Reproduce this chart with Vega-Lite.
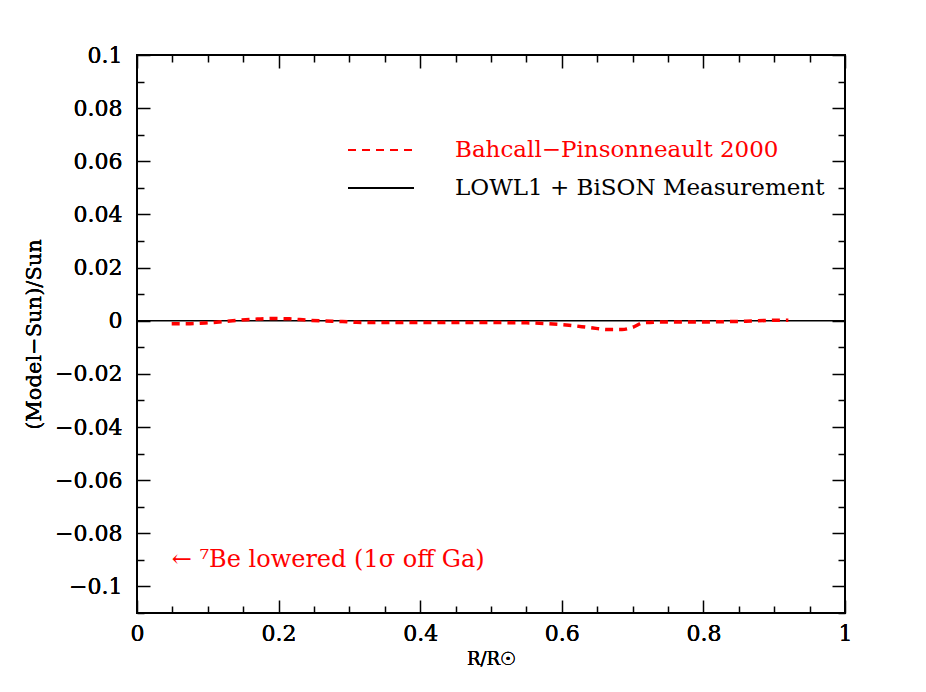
{
  "$schema": "https://vega.github.io/schema/vega-lite/v6.json",
  "width": 708,
  "height": 558,
  "autosize": {"type": "none"},
  "padding": {"left": 137, "top": 55, "right": 81, "bottom": 79},
  "background": "white",
  "config": {
    "view": {"stroke": "black", "strokeWidth": 2},
    "font": "DejaVu Serif",
    "axis": {"domain": false, "grid": false, "labelFont": "DejaVu Serif", "titleFont": "DejaVu Serif", "labelColor": "black", "titleColor": "black", "tickColor": "black", "tickWidth": 1.5, "labelFontWeight": "normal"}
  },
  "data": {
    "values": [
      {"series": "LOWL1 + BiSON Measurement", "R": 0, "val": 0},
      {"series": "LOWL1 + BiSON Measurement", "R": 1, "val": 0},
      {"series": "Bahcall−Pinsonneault 2000", "R": 0.049, "val": -0.0011},
      {"series": "Bahcall−Pinsonneault 2000", "R": 0.075, "val": -0.0011},
      {"series": "Bahcall−Pinsonneault 2000", "R": 0.10, "val": -0.0008},
      {"series": "Bahcall−Pinsonneault 2000", "R": 0.12, "val": -0.0004},
      {"series": "Bahcall−Pinsonneault 2000", "R": 0.145, "val": 0.0002},
      {"series": "Bahcall−Pinsonneault 2000", "R": 0.17, "val": 0.0006},
      {"series": "Bahcall−Pinsonneault 2000", "R": 0.19, "val": 0.0008},
      {"series": "Bahcall−Pinsonneault 2000", "R": 0.215, "val": 0.0007},
      {"series": "Bahcall−Pinsonneault 2000", "R": 0.24, "val": 0.0002},
      {"series": "Bahcall−Pinsonneault 2000", "R": 0.265, "val": -0.0001},
      {"series": "Bahcall−Pinsonneault 2000", "R": 0.29, "val": -0.0003},
      {"series": "Bahcall−Pinsonneault 2000", "R": 0.31, "val": -0.0006},
      {"series": "Bahcall−Pinsonneault 2000", "R": 0.35, "val": -0.0007},
      {"series": "Bahcall−Pinsonneault 2000", "R": 0.40, "val": -0.0007},
      {"series": "Bahcall−Pinsonneault 2000", "R": 0.45, "val": -0.0007},
      {"series": "Bahcall−Pinsonneault 2000", "R": 0.50, "val": -0.0007},
      {"series": "Bahcall−Pinsonneault 2000", "R": 0.55, "val": -0.0008},
      {"series": "Bahcall−Pinsonneault 2000", "R": 0.58, "val": -0.0011},
      {"series": "Bahcall−Pinsonneault 2000", "R": 0.61, "val": -0.0017},
      {"series": "Bahcall−Pinsonneault 2000", "R": 0.64, "val": -0.0026},
      {"series": "Bahcall−Pinsonneault 2000", "R": 0.665, "val": -0.0033},
      {"series": "Bahcall−Pinsonneault 2000", "R": 0.685, "val": -0.0033},
      {"series": "Bahcall−Pinsonneault 2000", "R": 0.70, "val": -0.0025},
      {"series": "Bahcall−Pinsonneault 2000", "R": 0.715, "val": -0.0008},
      {"series": "Bahcall−Pinsonneault 2000", "R": 0.74, "val": -0.0005},
      {"series": "Bahcall−Pinsonneault 2000", "R": 0.78, "val": -0.0005},
      {"series": "Bahcall−Pinsonneault 2000", "R": 0.82, "val": -0.0004},
      {"series": "Bahcall−Pinsonneault 2000", "R": 0.86, "val": -0.0002},
      {"series": "Bahcall−Pinsonneault 2000", "R": 0.89, "val": 0.0001},
      {"series": "Bahcall−Pinsonneault 2000", "R": 0.92, "val": 0.0002}
    ]
  },
  "encoding": {
    "x": {
      "field": "R", "type": "quantitative",
      "scale": {"domain": [0, 1], "nice": false, "zero": false},
      "axis": {
        "orient": "bottom", "values": [0, 0.2, 0.4, 0.6, 0.8, 1], "ticks": false, "format": ".1~f",
        "labelFontSize": 22, "labelPadding": 10, "labelFlush": false,
        "title": "R/R☉", "titleFontSize": 18, "titleFontWeight": "normal", "titlePadding": 6
      }
    },
    "y": {
      "field": "val", "type": "quantitative",
      "scale": {"domain": [-0.11, 0.1], "nice": false, "zero": false},
      "axis": {
        "orient": "left", "values": [-0.1, -0.08, -0.06, -0.04, -0.02, 0, 0.02, 0.04, 0.06, 0.08, 0.1], "ticks": false, "format": ".2~f",
        "labelFontSize": 22, "labelPadding": 15, "labelFlush": false,
        "title": "(Model−Sun)/Sun", "titleFontSize": 21, "titleFontWeight": "normal", "titlePadding": 10
      }
    }
  },
  "layer": [
    {
      "transform": [{"filter": "datum.series == 'LOWL1 + BiSON Measurement'"}],
      "mark": {"type": "line", "strokeWidth": 1.5},
      "encoding": {
        "color": {
          "field": "series", "type": "nominal",
          "scale": {"domain": ["Bahcall−Pinsonneault 2000", "LOWL1 + BiSON Measurement"], "range": ["#ff0000", "#000000"]},
          "legend": {
            "orient": "none", "legendX": 232, "legendY": 83, "title": null,
            "symbolType": "M -3 0 L 3 0", "symbolSize": 484, "symbolStrokeWidth": 2,
            "labelFontSize": 23, "labelFont": "DejaVu Serif", "labelOffset": 62, "rowPadding": 14, "labelLimit": 600,
            "encode": {"labels": {"update": {"fill": {"signal": "datum.label == 'LOWL1 + BiSON Measurement' ? 'black' : '#ff0000'"}}}}
          }
        },
        "strokeDash": {
          "field": "series", "type": "nominal",
          "scale": {"domain": ["Bahcall−Pinsonneault 2000", "LOWL1 + BiSON Measurement"], "range": [[8, 6], [1, 0]]},
          "legend": null
        }
      }
    },
    {
      "transform": [{"filter": "datum.series == 'Bahcall−Pinsonneault 2000'"}],
      "mark": {"type": "line", "strokeWidth": 3.5, "interpolate": "monotone"},
      "encoding": {
        "color": {"field": "series", "type": "nominal"},
        "strokeDash": {"field": "series", "type": "nominal"}
      }
    },
    {
      "data": {"values": [{"note": "← ⁷Be lowered (1σ off Ga)", "R": 0.049, "val": -0.0902}]},
      "mark": {"type": "text", "align": "left", "baseline": "middle", "fontSize": 24, "color": "#ff0000"},
      "encoding": {
        "text": {"field": "note", "type": "nominal"}
      }
    },
    {
      "mark": {"type": "point", "opacity": 0},
      "data": {"values": [{}]},
      "encoding": {
        "x": {"datum": 0, "type": "quantitative", "axis": {"orient": "top", "values": [0, 0.2, 0.4, 0.6, 0.8, 1], "labels": false, "tickSize": -13, "title": null}},
        "y": {"datum": 0, "type": "quantitative", "axis": {"orient": "right", "values": [-0.1, -0.08, -0.06, -0.04, -0.02, 0, 0.02, 0.04, 0.06, 0.08, 0.1], "labels": false, "tickSize": -13, "title": null}}
      }
    },
    {
      "mark": {"type": "point", "opacity": 0},
      "data": {"values": [{}]},
      "encoding": {
        "x": {"datum": 0, "type": "quantitative", "axis": {"orient": "bottom", "values": [0, 0.2, 0.4, 0.6, 0.8, 1], "labels": false, "tickSize": -13, "title": null}},
        "y": {"datum": 0, "type": "quantitative", "axis": {"orient": "left", "values": [-0.1, -0.08, -0.06, -0.04, -0.02, 0, 0.02, 0.04, 0.06, 0.08, 0.1], "labels": false, "tickSize": -13, "title": null}}
      }
    },
    {
      "mark": {"type": "point", "opacity": 0},
      "data": {"values": [{}]},
      "encoding": {
        "x": {"datum": 0, "type": "quantitative", "axis": {"orient": "bottom", "values": [0.05, 0.1, 0.15, 0.25, 0.3, 0.35, 0.45, 0.5, 0.55, 0.65, 0.7, 0.75, 0.85, 0.9, 0.95], "labels": false, "tickSize": -7, "title": null}},
        "y": {"datum": 0, "type": "quantitative", "axis": {"orient": "left", "values": [-0.11, -0.09, -0.07, -0.05, -0.03, -0.01, 0.01, 0.03, 0.05, 0.07, 0.09], "labels": false, "tickSize": -7, "title": null}}
      }
    },
    {
      "mark": {"type": "point", "opacity": 0},
      "data": {"values": [{}]},
      "encoding": {
        "x": {"datum": 0, "type": "quantitative", "axis": {"orient": "top", "values": [0.05, 0.1, 0.15, 0.25, 0.3, 0.35, 0.45, 0.5, 0.55, 0.65, 0.7, 0.75, 0.85, 0.9, 0.95], "labels": false, "tickSize": -7, "title": null}},
        "y": {"datum": 0, "type": "quantitative", "axis": {"orient": "right", "values": [-0.11, -0.09, -0.07, -0.05, -0.03, -0.01, 0.01, 0.03, 0.05, 0.07, 0.09], "labels": false, "tickSize": -7, "title": null}}
      }
    }
  ],
  "resolve": {"axis": {"x": "independent", "y": "independent"}}
}
